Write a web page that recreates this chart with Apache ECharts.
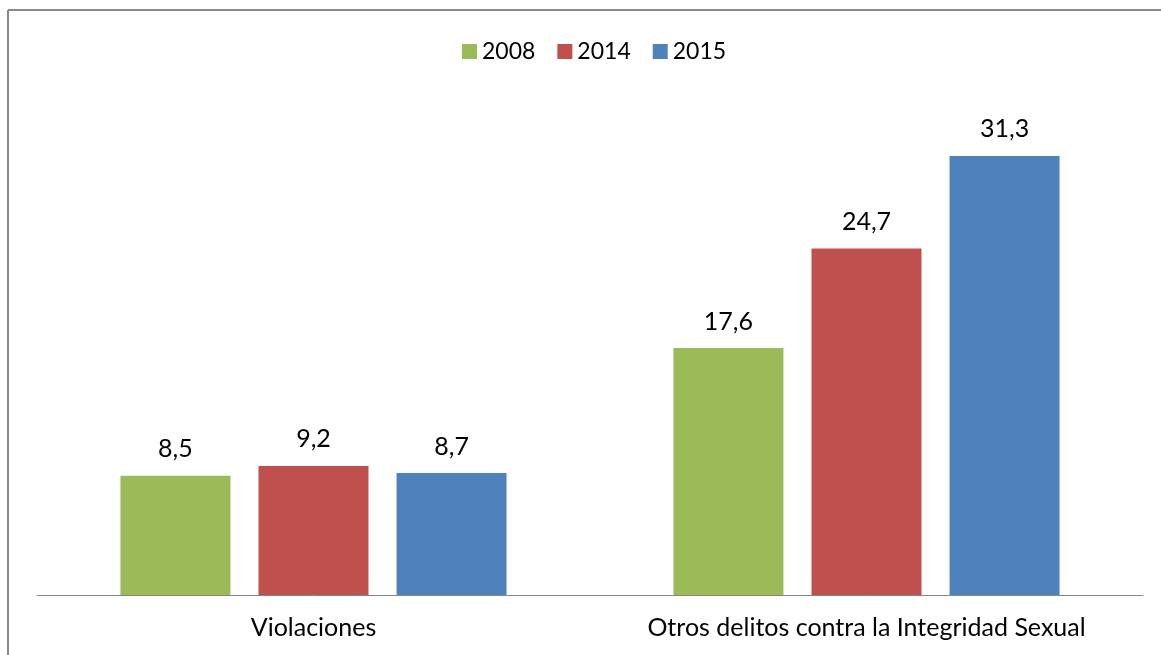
<!DOCTYPE html>
<html>
<head>
<meta charset="utf-8">
<script src="https://cdn.jsdelivr.net/npm/echarts@6/dist/echarts.min.js"></script>
<style>
  html, body { margin: 0; padding: 0; background: #fff; }
  #main { width: 1161px; height: 655px; }
</style>
</head>
<body>
<div id="main"></div>
<script>
  // datos
  const categories = ['Violaciones', 'Otros delitos contra la Integridad Sexual']
  const years = ['2008', '2014', '2015']
  const values2008 = [8.5, 17.6]
  const values2014 = [9.2, 24.7]
  const values2015 = [8.7, 31.3]
  const colors = ['#9BBB59', '#C0504D', '#4F81BD']

  const font = 'Lato, "Open Sans", sans-serif'
  const seriesValues = [values2008, values2014, values2015]

  const myChart = echarts.init(document.getElementById('main'))
  myChart.setOption({
    animation: false,
    textStyle: { fontFamily: font },
    graphic: [
      { type: 'line', shape: { x1: 8, y1: 10, x2: 1161, y2: 10 }, style: { stroke: '#888', lineWidth: 2 } },
      { type: 'line', shape: { x1: 8, y1: 10, x2: 8, y2: 655 }, style: { stroke: '#888', lineWidth: 2 } }
    ],
    legend: {
      top: 35,
      left: 457,
      itemWidth: 15,
      itemHeight: 15,
      itemGap: 22,
      icon: 'rect',
      textStyle: { fontSize: 23, color: '#000', fontFamily: font },
      data: years
    },
    grid: { left: 37, right: 18, top: 104, bottom: 60 },
    xAxis: {
      type: 'category',
      data: categories,
      axisLine: { lineStyle: { color: '#868686', width: 1 } },
      axisTick: { show: false },
      axisLabel: { interval: 0, fontSize: 25, color: '#000', margin: 20, fontFamily: font }
    },
    yAxis: {
      type: 'value',
      min: 0,
      max: 35,
      show: false
    },
    series: years.map((y, i) => ({
      name: y,
      type: 'bar',
      data: seriesValues[i],
      barWidth: 110,
      barGap: '25.5%',
      itemStyle: { color: colors[i] },
      label: {
        show: true,
        position: 'top',
        distance: 14,
        fontSize: 25,
        color: '#000',
        fontFamily: font,
        formatter: (p) => String(p.value.toFixed(1)).replace('.', ',')
      }
    }))
  })
</script>
</body>
</html>
